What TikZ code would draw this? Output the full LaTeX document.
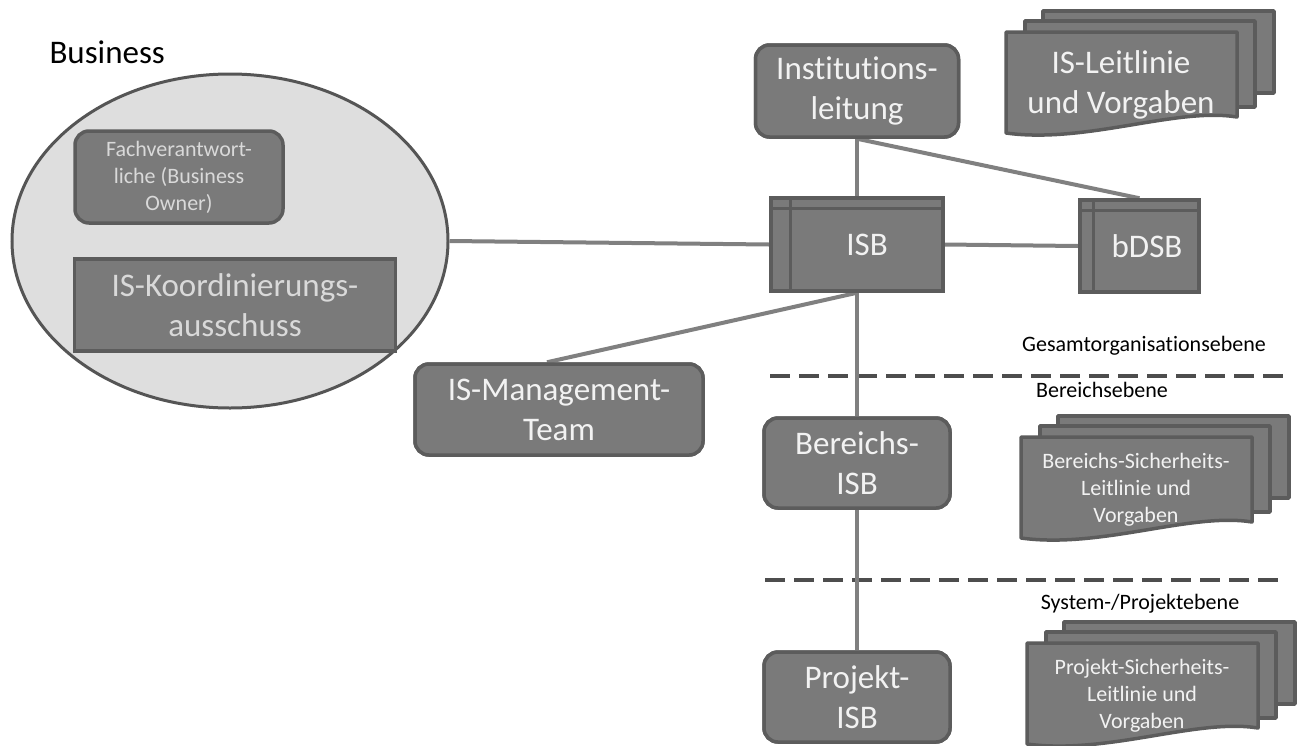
\documentclass[tikz,border=0pt]{standalone}
\usepackage{fontspec}
\setmainfont{Carlito}[Ligatures=NoCommon]
\usetikzlibrary{shapes.geometric,calc}
\definecolor{boxfill}{HTML}{7A7A7A}
\definecolor{boxdraw}{HTML}{5C5C5C}
\definecolor{ellfill}{HTML}{DEDEDE}
\definecolor{elldraw}{HTML}{555555}
\definecolor{conncol}{HTML}{808080}
\definecolor{dashcol}{HTML}{4D4D4D}
\definecolor{txtlight}{HTML}{F2F2F2}
\definecolor{txtgray}{HTML}{D9D9D9}
\tikzset{
  big/.style={font=\fontsize{33}{40}\selectfont, text=txtlight, align=center},
  smallw/.style={font=\fontsize{22}{27}\selectfont, text=txtlight, align=center},
  lbl/.style={font=\fontsize{22}{27}\selectfont, text=black},
  rbox/.style={draw=boxdraw, fill=boxfill, line width=3.5pt, rounded corners=14pt, inner sep=0pt},
  sbox/.style={draw=boxdraw, fill=boxfill, line width=3.5pt, inner sep=0pt},
  inline/.style={draw=boxdraw, line width=3pt},
  docst/.style={draw=boxdraw, fill=boxfill, line width=3.5pt, line join=round},
  conn/.style={draw=conncol, line width=4pt},
  level/.style={draw=dashcol, line width=4.5pt, dash pattern=on 20pt off 9pt}
}
\newcommand\docstack[5]{%
  \filldraw[docst] ({#2+37},{#3-21}) rectangle ({#2+268},{#3+61});
  \filldraw[docst] ({#2+19},{#3-11}) rectangle ({#2+249},{#3+75});
  \filldraw[docst] (#2,#3) -- ({#2+231},#3) -- ({#2+231},{#3+85})
     .. controls ({#2+170},{#3+75}) and ({#2+80},{#3+112}) .. (#2,{#3+101}) -- cycle;
  \node[#4] (#1) at ({#2+115},{#3+53}) {#5};
}
\begin{document}
\begin{tikzpicture}[x=1pt,y=-1pt]
\useasboundingbox[fill=white] (0,0) rectangle (1301,745);

% level lines and labels
\coordinate (d1a) at (770,376);
\coordinate (d1b) at (1285,376);
\coordinate (d2a) at (765,580);
\coordinate (d2b) at (1280,580);
\draw[level] (d1a) -- (d1b);
\draw[level] (d2a) -- (d2b);
\node[lbl] (l1) at (1144,346) {Gesamtorganisationsebene};
\node[lbl] (l2) at (1102,390) {Bereichsebene};
\node[lbl] (l3) at (1140,604) {System-/Projektebene};

% Business label
\node[font=\fontsize{33}{39}\selectfont, anchor=west] (bus) at (46,52) {Business};

% Ellipse group
\node[ellipse, draw=elldraw, fill=ellfill, line width=3pt, minimum width=436pt, minimum height=334pt] (biz) at (230,241) {};

% nodes
\node[rbox, minimum width=203pt, minimum height=92pt, big] (inst) at (857,91) {Institutions-\\leitung};
\node[sbox, minimum width=172pt, minimum height=93pt, big] (isb) at (857,244.5) {\hspace*{20pt}ISB};
\node[sbox, minimum width=119pt, minimum height=92pt, big] (bdsb) at (1139.5,246) {\hspace*{15pt}bDSB};
\node[rbox, minimum width=288pt, minimum height=91pt, big] (mgmt) at (559,409.5) {IS-Management-\\Team};
\node[rbox, minimum width=186pt, minimum height=90pt, big] (bisb) at (857,463) {Bereichs-\\ISB};
\node[rbox, minimum width=186pt, minimum height=90pt, big] (pisb) at (857,697) {Projekt-\\ISB};

% connectors
\draw[conn] (biz.east) -- (isb.west);
\draw[conn] (isb.east) -- (bdsb.west);
\draw[conn] (inst.south) -- (isb.north);
\draw[conn] (inst.south) -- (bdsb.north);
\draw[conn] (isb.south) -- ($(mgmt.north)+(-12,0)$);
\draw[conn] (isb.south) -- (bisb.north);
\draw[conn] (bisb.south) -- (pisb.north);

% redraw boxes on top of connectors
\node[rbox, minimum width=203pt, minimum height=92pt, big] at (857,91) {Institutions-\\leitung};
\node[sbox, minimum width=172pt, minimum height=93pt, big] at (857,244.5) {\hspace*{20pt}ISB};
\node[sbox, minimum width=119pt, minimum height=92pt, big] at (1139.5,246) {\hspace*{15pt}bDSB};
\node[rbox, minimum width=288pt, minimum height=91pt, big] at (559,409.5) {IS-Management-\\Team};
\node[rbox, minimum width=186pt, minimum height=90pt, big] at (857,463) {Bereichs-\\ISB};
\node[rbox, minimum width=186pt, minimum height=90pt, big] at (857,697) {Projekt-\\ISB};

% inner lines of ISB and bDSB
\draw[inline] ($(isb.north west)+(21,0)$) -- ($(isb.south west)+(21,0)$);
\draw[inline] ($(isb.north west)+(0,12)$) -- ($(isb.north east)+(0,12)$);
\draw[inline] ($(bdsb.north west)+(15,0)$) -- ($(bdsb.south west)+(15,0)$);
\draw[inline] ($(bdsb.north west)+(0,12)$) -- ($(bdsb.north east)+(0,12)$);

% inside the ellipse
\node[rbox, minimum width=208pt, minimum height=92pt, font=\fontsize{22}{27}\selectfont, text=txtgray, align=center] (fach) at (179,177) {Fachverantwort-\\liche (Business\\Owner)};
\node[sbox, minimum width=321pt, minimum height=92pt, font=\fontsize{33}{40}\selectfont, text=txtgray, align=center] (kood) at (235,305) {IS-Koordinierungs-\\ausschuss};

% documents
\docstack{doca}{1006}{32}{big}{IS-Leitlinie\\und Vorgaben}
\docstack{docb}{1021}{437}{smallw}{Bereichs-Sicherheits-\\Leitlinie und\\Vorgaben}
\docstack{docc}{1027}{643}{smallw}{Projekt-Sicherheits-\\Leitlinie und\\Vorgaben}
\end{tikzpicture}
\end{document}
